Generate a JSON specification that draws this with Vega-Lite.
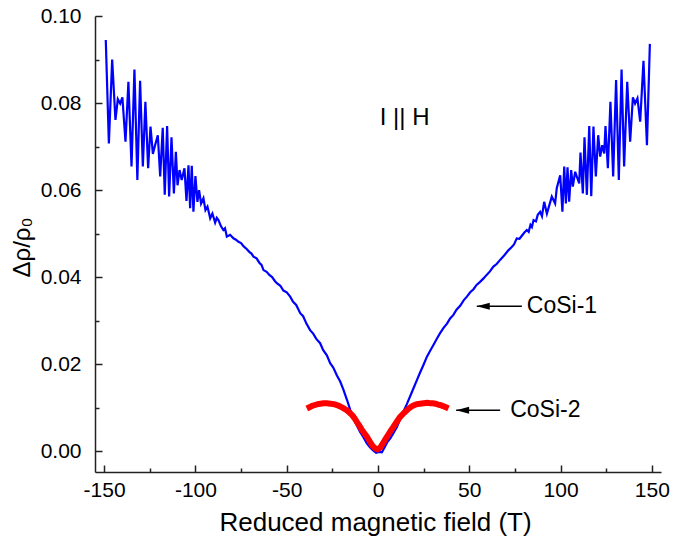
{
  "$schema": "https://vega.github.io/schema/vega-lite/v6.json",
  "autosize": "none",
  "width": 566,
  "height": 456,
  "padding": {"left": 95, "top": 16, "right": 28, "bottom": 72},
  "background": "white",
  "config": {
    "view": {"stroke": null},
    "font": "Liberation Sans",
    "axis": {
      "grid": false,
      "domainColor": "#222",
      "domainWidth": 1.5,
      "tickColor": "#222",
      "tickWidth": 1.5,
      "labelFont": "Liberation Sans",
      "titleFont": "Liberation Sans",
      "labelFontSize": 21,
      "titleFontSize": 26,
      "titleFontWeight": "normal",
      "labelColor": "black",
      "titleColor": "black"
    }
  },
  "datasets": {
    "cosi1": [
      {"h": -149.1, "r": 0.0945}, {"h": -147.4, "r": 0.0707}, {"h": -145.6, "r": 0.0900}, {"h": -143.8, "r": 0.0761},
      {"h": -142.5, "r": 0.0809}, {"h": -141.2, "r": 0.0799}, {"h": -140.0, "r": 0.0813}, {"h": -138.3, "r": 0.0711},
      {"h": -136.7, "r": 0.0849}, {"h": -135.0, "r": 0.0654}, {"h": -133.4, "r": 0.0877}, {"h": -131.8, "r": 0.0623},
      {"h": -130.3, "r": 0.0851}, {"h": -128.8, "r": 0.0654}, {"h": -127.4, "r": 0.0803}, {"h": -125.9, "r": 0.0650},
      {"h": -124.6, "r": 0.0746}, {"h": -123.3, "r": 0.0683}, {"h": -122.1, "r": 0.0703}, {"h": -120.6, "r": 0.0726},
      {"h": -119.3, "r": 0.0631}, {"h": -117.9, "r": 0.0743}, {"h": -116.8, "r": 0.0589}, {"h": -115.5, "r": 0.0747},
      {"h": -114.4, "r": 0.0585}, {"h": -113.1, "r": 0.0721}, {"h": -111.8, "r": 0.0592}, {"h": -110.7, "r": 0.0688},
      {"h": -109.8, "r": 0.0611}, {"h": -108.7, "r": 0.0646}, {"h": -107.5, "r": 0.0623}, {"h": -106.0, "r": 0.0650},
      {"h": -104.9, "r": 0.0575}, {"h": -103.8, "r": 0.0657}, {"h": -102.9, "r": 0.0558}, {"h": -102.0, "r": 0.0656},
      {"h": -101.1, "r": 0.0550}, {"h": -100.0, "r": 0.0632}, {"h": -98.9, "r": 0.0573}, {"h": -98.0, "r": 0.0600},
      {"h": -96.9, "r": 0.0569}, {"h": -95.6, "r": 0.0581}, {"h": -94.5, "r": 0.0554}, {"h": -93.4, "r": 0.0562},
      {"h": -92.6, "r": 0.0548}, {"h": -91.9, "r": 0.0535}, {"h": -90.7, "r": 0.0546}, {"h": -89.2, "r": 0.0525},
      {"h": -88.3, "r": 0.0536}, {"h": -87.4, "r": 0.0531}, {"h": -85.9, "r": 0.0516}, {"h": -84.7, "r": 0.0508},
      {"h": -83.8, "r": 0.0512}, {"h": -82.8, "r": 0.0493}, {"h": -81.0, "r": 0.0497}, {"h": -79.2, "r": 0.0489},
      {"h": -77.8, "r": 0.0486}, {"h": -76.4, "r": 0.0481}, {"h": -75.0, "r": 0.0478}, {"h": -73.7, "r": 0.0471},
      {"h": -71.8, "r": 0.0464}, {"h": -70.5, "r": 0.0458}, {"h": -69.3, "r": 0.0454}, {"h": -68.2, "r": 0.0447},
      {"h": -66.5, "r": 0.0443}, {"h": -65.0, "r": 0.0433}, {"h": -63.8, "r": 0.0428}, {"h": -62.7, "r": 0.0416},
      {"h": -61.0, "r": 0.0412}, {"h": -59.5, "r": 0.0405}, {"h": -58.0, "r": 0.0400}, {"h": -56.5, "r": 0.0391},
      {"h": -55.4, "r": 0.0386}, {"h": -53.5, "r": 0.0380}, {"h": -51.8, "r": 0.0369}, {"h": -50.0, "r": 0.0365},
      {"h": -48.1, "r": 0.0355}, {"h": -46.5, "r": 0.0343}, {"h": -44.8, "r": 0.0336}, {"h": -42.6, "r": 0.0317},
      {"h": -41.0, "r": 0.0310}, {"h": -39.2, "r": 0.0293}, {"h": -37.2, "r": 0.0278}, {"h": -35.5, "r": 0.0270},
      {"h": -33.8, "r": 0.0258}, {"h": -31.7, "r": 0.0248}, {"h": -30.0, "r": 0.0232}, {"h": -28.0, "r": 0.0220},
      {"h": -26.2, "r": 0.0202}, {"h": -24.5, "r": 0.0192}, {"h": -22.5, "r": 0.0174}, {"h": -20.7, "r": 0.0160},
      {"h": -19.0, "r": 0.0142}, {"h": -17.0, "r": 0.0118}, {"h": -15.3, "r": 0.0096}, {"h": -13.5, "r": 0.0076},
      {"h": -11.5, "r": 0.0058}, {"h": -9.8, "r": 0.0044}, {"h": -8.0, "r": 0.0032}, {"h": -6.1, "r": 0.0018},
      {"h": -4.3, "r": 0.0008}, {"h": -2.5, "r": 0.0001}, {"h": -1.0, "r": -0.0004}, {"h": 0.5, "r": -0.0002},
      {"h": 2.1, "r": -0.0003}, {"h": 3.5, "r": 0.0008}, {"h": 5.0, "r": 0.0020}, {"h": 6.8, "r": 0.0030},
      {"h": 8.5, "r": 0.0042}, {"h": 10.3, "r": 0.0055}, {"h": 12.0, "r": 0.0072}, {"h": 14.0, "r": 0.0092},
      {"h": 15.8, "r": 0.0108}, {"h": 17.5, "r": 0.0125}, {"h": 19.5, "r": 0.0145}, {"h": 21.3, "r": 0.0163},
      {"h": 23.0, "r": 0.0180}, {"h": 25.0, "r": 0.0199}, {"h": 26.8, "r": 0.0217}, {"h": 28.5, "r": 0.0230},
      {"h": 30.5, "r": 0.0245}, {"h": 32.3, "r": 0.0259}, {"h": 34.0, "r": 0.0271}, {"h": 36.0, "r": 0.0284},
      {"h": 37.8, "r": 0.0293}, {"h": 39.5, "r": 0.0305}, {"h": 41.3, "r": 0.0313}, {"h": 43.0, "r": 0.0325},
      {"h": 45.0, "r": 0.0334}, {"h": 47.0, "r": 0.0347}, {"h": 48.7, "r": 0.0355}, {"h": 50.5, "r": 0.0365},
      {"h": 52.3, "r": 0.0372}, {"h": 54.0, "r": 0.0382}, {"h": 55.9, "r": 0.0389}, {"h": 57.8, "r": 0.0397},
      {"h": 59.5, "r": 0.0405}, {"h": 61.3, "r": 0.0413}, {"h": 63.2, "r": 0.0424}, {"h": 65.0, "r": 0.0430},
      {"h": 67.0, "r": 0.0440}, {"h": 69.2, "r": 0.0450}, {"h": 71.5, "r": 0.0462}, {"h": 73.0, "r": 0.0468},
      {"h": 74.5, "r": 0.0475}, {"h": 76.0, "r": 0.0489}, {"h": 77.5, "r": 0.0488}, {"h": 79.0, "r": 0.0496},
      {"h": 80.3, "r": 0.0503}, {"h": 81.5, "r": 0.0508}, {"h": 82.5, "r": 0.0504}, {"h": 83.5, "r": 0.0520},
      {"h": 84.3, "r": 0.0515}, {"h": 85.2, "r": 0.0531}, {"h": 86.5, "r": 0.0528}, {"h": 87.5, "r": 0.0543},
      {"h": 88.8, "r": 0.0550}, {"h": 89.8, "r": 0.0540}, {"h": 91.0, "r": 0.0573}, {"h": 92.5, "r": 0.0546},
      {"h": 95.2, "r": 0.0585}, {"h": 97.0, "r": 0.0569}, {"h": 97.9, "r": 0.0604}, {"h": 99.8, "r": 0.0634},
      {"h": 101.0, "r": 0.0550}, {"h": 102.0, "r": 0.0654}, {"h": 102.9, "r": 0.0569}, {"h": 103.8, "r": 0.0652},
      {"h": 104.7, "r": 0.0573}, {"h": 105.8, "r": 0.0646}, {"h": 106.7, "r": 0.0608}, {"h": 108.0, "r": 0.0642},
      {"h": 110.2, "r": 0.0615}, {"h": 110.9, "r": 0.0686}, {"h": 112.2, "r": 0.0592}, {"h": 113.1, "r": 0.0721},
      {"h": 114.4, "r": 0.0589}, {"h": 115.7, "r": 0.0747}, {"h": 116.8, "r": 0.0586}, {"h": 118.0, "r": 0.0746},
      {"h": 119.3, "r": 0.0631}, {"h": 120.6, "r": 0.0726}, {"h": 121.7, "r": 0.0677}, {"h": 122.8, "r": 0.0703},
      {"h": 123.9, "r": 0.0684}, {"h": 124.6, "r": 0.0747}, {"h": 125.9, "r": 0.0650}, {"h": 127.3, "r": 0.0803},
      {"h": 128.8, "r": 0.0631}, {"h": 130.4, "r": 0.0853}, {"h": 131.9, "r": 0.0623}, {"h": 133.4, "r": 0.0877},
      {"h": 134.8, "r": 0.0654}, {"h": 136.5, "r": 0.0849}, {"h": 138.1, "r": 0.0711}, {"h": 139.6, "r": 0.0813},
      {"h": 140.8, "r": 0.0799}, {"h": 142.1, "r": 0.0811}, {"h": 143.6, "r": 0.0757}, {"h": 145.4, "r": 0.0897},
      {"h": 147.3, "r": 0.0703}, {"h": 148.9, "r": 0.0936}
    ],
    "cosi2": [
      {"h": -39.0, "r": 0.0098}, {"h": -37.5, "r": 0.0101}, {"h": -36.0, "r": 0.0104}, {"h": -34.5, "r": 0.0106},
      {"h": -33.0, "r": 0.0108}, {"h": -31.5, "r": 0.0109}, {"h": -29.9, "r": 0.0110}, {"h": -28.0, "r": 0.0110},
      {"h": -26.0, "r": 0.0109}, {"h": -24.2, "r": 0.0108}, {"h": -22.5, "r": 0.0106}, {"h": -21.0, "r": 0.0103},
      {"h": -19.5, "r": 0.0100}, {"h": -17.1, "r": 0.0094}, {"h": -15.5, "r": 0.0088}, {"h": -14.0, "r": 0.0082},
      {"h": -12.8, "r": 0.0075}, {"h": -11.6, "r": 0.0067}, {"h": -10.3, "r": 0.0059}, {"h": -9.0, "r": 0.0050},
      {"h": -7.5, "r": 0.0041}, {"h": -6.1, "r": 0.0033}, {"h": -4.5, "r": 0.0022}, {"h": -3.0, "r": 0.0012},
      {"h": -1.5, "r": 0.0006}, {"h": -0.3, "r": 0.0004}, {"h": 1.2, "r": 0.0008}, {"h": 2.6, "r": 0.0017},
      {"h": 4.0, "r": 0.0027}, {"h": 5.5, "r": 0.0037}, {"h": 7.0, "r": 0.0047}, {"h": 8.5, "r": 0.0056},
      {"h": 10.2, "r": 0.0067}, {"h": 12.0, "r": 0.0078}, {"h": 14.0, "r": 0.0087}, {"h": 15.8, "r": 0.0094},
      {"h": 17.2, "r": 0.0099}, {"h": 18.5, "r": 0.0103}, {"h": 20.0, "r": 0.0106}, {"h": 21.3, "r": 0.0108},
      {"h": 23.0, "r": 0.0109}, {"h": 25.0, "r": 0.0110}, {"h": 27.0, "r": 0.0111}, {"h": 28.6, "r": 0.0110},
      {"h": 30.0, "r": 0.0110}, {"h": 31.5, "r": 0.0109}, {"h": 33.0, "r": 0.0107}, {"h": 34.0, "r": 0.0106},
      {"h": 35.3, "r": 0.0104}, {"h": 36.5, "r": 0.0102}, {"h": 37.6, "r": 0.0100}, {"h": 38.6, "r": 0.0098}
    ],
    "arrows": [
      {"x1": 54.1, "x2": 78.8, "y": 0.0333, "label": "CoSi-1", "tx": 81.5},
      {"x1": 42.8, "x2": 66.9, "y": 0.0094, "label": "CoSi-2", "tx": 72.4}
    ],
    "note": [{"x": 14.6, "y": 0.0766, "label": "I || H"}]
  },
  "layer": [
    {
      "data": {"name": "cosi1"},
      "mark": {"type": "line", "color": "#0000FF", "strokeWidth": 2.2, "clip": true},
      "encoding": {
        "x": {
          "field": "h", "type": "quantitative",
          "scale": {"domain": [-155, 155], "nice": false, "zero": false},
          "axis": {
            "title": "Reduced magnetic field (T)",
            "values": [-150, -125, -100, -75, -50, -25, 0, 25, 50, 75, 100, 125, 150],
            "labelExpr": "datum.value % 50 === 0 ? '' + datum.value : ''",
            "tickSize": {"condition": {"test": "datum.value % 50 !== 0", "value": -4}, "value": -7},
            "labelPadding": 14,
            "titleX": 280,
            "titleY": 58,
            "titleBaseline": "alphabetic",
            "titleAlign": "center"
          }
        },
        "y": {
          "field": "r", "type": "quantitative",
          "scale": {"domain": [-0.0048, 0.1], "nice": false, "zero": false},
          "axis": {
            "title": "Δρ/ρ₀",
            "values": [0, 0.01, 0.02, 0.03, 0.04, 0.05, 0.06, 0.07, 0.08, 0.09, 0.1],
            "labelExpr": "round(datum.value * 100) % 2 === 0 ? format(datum.value, '.2f') : ''",
            "tickSize": {"condition": {"test": "round(datum.value * 100) % 2 !== 0", "value": -4}, "value": -7},
            "labelPadding": 21,
            "titleX": -73,
            "titleY": 261,
            "titleAngle": -90,
            "titleFontSize": 24,
            "titleBaseline": "middle",
            "titleAlign": "left"
          }
        }
      }
    },
    {
      "data": {"name": "cosi2"},
      "mark": {"type": "line", "color": "#FF0000", "strokeWidth": 6},
      "encoding": {
        "x": {"field": "h", "type": "quantitative"},
        "y": {"field": "r", "type": "quantitative"}
      }
    },
    {
      "data": {"name": "arrows"},
      "mark": {"type": "rule", "color": "black", "strokeWidth": 1.5},
      "encoding": {
        "x": {"field": "x1", "type": "quantitative"},
        "x2": {"field": "x2"},
        "y": {"field": "y", "type": "quantitative"}
      }
    },
    {
      "data": {"name": "arrows"},
      "mark": {"type": "point", "shape": "M0,0L2,-0.55L2,0.55Z", "filled": true, "color": "black", "opacity": 1, "size": 169},
      "encoding": {
        "x": {"field": "x1", "type": "quantitative"},
        "y": {"field": "y", "type": "quantitative"}
      }
    },
    {
      "data": {"name": "arrows"},
      "mark": {"type": "text", "align": "left", "baseline": "middle", "fontSize": 23, "font": "Liberation Sans", "color": "black"},
      "encoding": {
        "x": {"field": "tx", "type": "quantitative"},
        "y": {"field": "y", "type": "quantitative"},
        "text": {"field": "label"}
      }
    },
    {
      "data": {"name": "note"},
      "mark": {"type": "text", "align": "center", "baseline": "middle", "fontSize": 24, "font": "Liberation Sans", "color": "black"},
      "encoding": {
        "x": {"field": "x", "type": "quantitative"},
        "y": {"field": "y", "type": "quantitative"},
        "text": {"field": "label"}
      }
    }
  ]
}
